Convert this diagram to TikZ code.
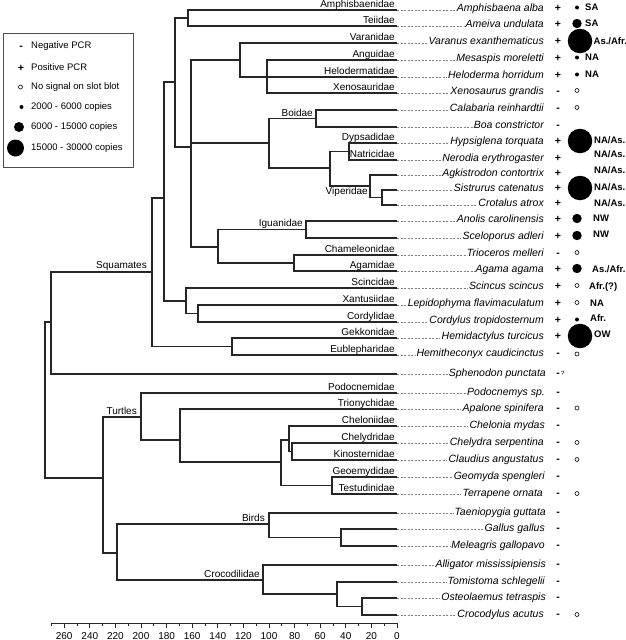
\documentclass[tikz,border=0pt]{standalone}
\usepackage{fontspec}
\setmainfont{Liberation Sans}
\begin{document}
\begin{tikzpicture}[x=1pt,y=-1pt,
  br/.style={line width=1.3pt, draw=black!85},
  lead/.style={draw=black!50, line width=0.5pt, dash pattern=on 2.2pt off 1.3pt},
  fam/.style={anchor=base east, inner sep=0pt, font=\fontsize{10}{12}\selectfont},
  sp/.style={anchor=base east, inner xsep=1pt, inner ysep=0pt, font=\fontsize{10.5}{12}\selectfont\itshape},
  sgn/.style={anchor=base, inner sep=0pt, font=\fontsize{10.5}{12}\selectfont\bfseries},
  reg/.style={anchor=base west, inner sep=0pt, font=\fontsize{9.5}{12}\selectfont\bfseries},
  dotL/.style={circle, fill=black, inner sep=0pt, minimum size=24.5pt},
  dotM/.style={circle, fill=black, inner sep=0pt, minimum size=9.4pt},
  dotS/.style={circle, fill=black, inner sep=0pt, minimum size=4pt},
  dotO/.style={circle, draw=black, line width=0.6pt, inner sep=0pt, minimum size=4pt},
  leg/.style={anchor=west, inner sep=0pt, font=\fontsize{9.5}{11}\selectfont},
  legbox/.style={draw=black!70, line width=0.8pt, minimum width=130pt, minimum height=134pt, inner sep=0pt},
  axl/.style={line width=1pt, draw=black!85},
  axlab/.style={anchor=base, inner sep=0pt, font=\fontsize{10}{12}\selectfont}
]
\useasboundingbox (0,0) rectangle (626,640);

\newcommand\mkrow[6]{% index, y, species, sign, species right x, baseline offset
  \coordinate (t#1) at (397,#2);
  \node[sp] (s#1) at (#5,#2+#6) {#3};
  \draw[lead] (t#1) -- (s#1.west |- t#1);
  \node[sgn] (g#1) at (558,#2+#6) {#4};
}

% ---- leaves ----
\mkrow{1}{10}{Amphisbaena alba}{+}{545}{1}
\mkrow{2}{26}{Ameiva undulata}{+}{545}{1}
\mkrow{3}{43}{Varanus exanthematicus}{+}{545}{1}
\mkrow{4}{60}{Mesaspis moreletti}{+}{545}{1}
\mkrow{5}{77}{Heloderma horridum}{+}{545}{1}
\mkrow{6}{93}{Xenosaurus grandis}{-}{545}{1}
\mkrow{7}{110}{Calabaria reinhardtii}{-}{545}{1}
\mkrow{8}{127}{Boa constrictor}{-}{545}{1}
\mkrow{9}{143}{Hypsiglena torquata}{+}{545}{1}
\mkrow{10}{160}{Nerodia erythrogaster}{+}{545}{1}
\mkrow{11}{175}{Agkistrodon contortrix}{+}{545}{1}
\mkrow{12}{190}{Sistrurus catenatus}{+}{545}{1}
\mkrow{13}{205}{Crotalus atrox}{+}{545}{1}
\mkrow{14}{221}{Anolis carolinensis}{+}{545}{1}
\mkrow{15}{238}{Sceloporus adleri}{+}{545}{1}
\mkrow{16}{255}{Trioceros melleri}{-}{545}{1}
\mkrow{17}{271}{Agama agama}{+}{545}{1}
\mkrow{18}{288}{Scincus scincus}{+}{545}{1}
\mkrow{19}{305}{Lepidophyma flavimaculatum}{+}{545}{1}
\mkrow{20}{322}{Cordylus tropidosternum}{+}{545}{1}
\mkrow{21}{338}{Hemidactylus turcicus}{+}{545}{1}
\mkrow{22}{355}{Hemitheconyx caudicinctus}{-}{545}{1.5}
\mkrow{23}{374}{Sphenodon punctata}{-}{547}{2.5}
\mkrow{24}{393}{Podocnemys sp.}{-}{546}{2.5}
\mkrow{25}{409}{Apalone spinifera}{-}{545}{2.5}
\mkrow{26}{426}{Chelonia mydas}{-}{546}{2.5}
\mkrow{27}{443}{Chelydra serpentina}{-}{545}{2.5}
\mkrow{28}{460}{Claudius angustatus}{-}{545}{2.5}
\mkrow{29}{477}{Geomyda spengleri}{-}{546}{2.5}
\mkrow{30}{494}{Terrapene ornata}{-}{544}{2.5}
\mkrow{31}{513}{Taeniopygia guttata}{-}{547}{2.5}
\mkrow{32}{529}{Gallus gallus}{-}{546}{2.5}
\mkrow{33}{546}{Meleagris gallopavo}{-}{546}{2.5}
\mkrow{34}{565}{Alligator mississipiensis}{-}{547}{2.5}
\mkrow{35}{582}{Tomistoma schlegelii}{-}{546}{2.5}
\mkrow{36}{598}{Osteolaemus tetraspis}{-}{547}{2.5}
\mkrow{37}{615}{Crocodylus acutus}{-}{545}{2.5}
\node[anchor=base west, inner sep=0pt, font=\fontsize{6}{7}\selectfont] (q23) at (561,375) {?};

% ---- internal nodes ----
\coordinate (amte) at (188,18);
\coordinate (ang3) at (267,77);
\coordinate (angui) at (240,60);
\coordinate (boid) at (316,118.5);
\coordinate (colub) at (349,151.5);
\coordinate (crot) at (382,197.5);
\coordinate (viper) at (370,186);
\coordinate (caen) at (330,168);
\coordinate (snake) at (269,143);
\coordinate (igu) at (306,229.5);
\coordinate (acro) at (294,263);
\coordinate (iguania) at (218,247);
\coordinate (toxi) at (191,147);
\coordinate (nB) at (175,82);
\coordinate (xc) at (198,313.5);
\coordinate (scinci) at (186,301);
\coordinate (nA) at (164,198);
\coordinate (gekk) at (232,346.5);
\coordinate (squam) at (152,272);
\coordinate (lepid) at (51,322);
\coordinate (chk) at (292,451.5);
\coordinate (chel) at (289,440);
\coordinate (test) at (332,485.5);
\coordinate (duro) at (281,462);
\coordinate (crypt) at (180,440);
\coordinate (turt) at (141,417);
\coordinate (gm) at (341,537.5);
\coordinate (birds) at (269,524);
\coordinate (os) at (362,606.5);
\coordinate (tc) at (337,594);
\coordinate (croc) at (263,580);
\coordinate (archo) at (117,553);
\coordinate (arche) at (103,478);
\coordinate (root) at (45,400);

\foreach \p/\cs in {amte/{t1,t2}, ang3/{t4,t5,t6}, angui/{t3,ang3}, boid/{t7,t8},
  colub/{t9,t10}, crot/{t12,t13}, viper/{t11,crot}, caen/{colub,viper},
  snake/{boid,caen}, igu/{t14,t15}, acro/{t16,t17}, iguania/{igu,acro},
  toxi/{angui,snake,iguania}, nB/{amte,toxi}, xc/{t19,t20}, scinci/{t18,xc},
  nA/{nB,scinci}, gekk/{t21,t22}, squam/{nA,gekk}, lepid/{squam,t23},
  chk/{t27,t28}, chel/{t26,chk}, test/{t29,t30}, duro/{chel,test},
  crypt/{t25,duro}, turt/{t24,crypt}, gm/{t32,t33}, birds/{t31,gm},
  os/{t36,t37}, tc/{t35,os}, croc/{t34,tc}, archo/{birds,croc},
  arche/{turt,archo}, root/{lepid,arche}}
  {\foreach \c in \cs {\draw[br] (\p) |- (\c);}}

% ---- family labels ----
\foreach \i/\y/\f in {1/10/Amphisbaenidae, 2/26/Teiidae, 3/43/Varanidae, 4/60/Anguidae,
  5/77/Helodermatidae, 6/93/Xenosauridae, 9/143/Dypsadidae, 10/160/Natricidae,
  16/255/Chameleonidae, 17/271/Agamidae, 18/288/Scincidae, 19/305/Xantusiidae,
  20/322/Cordylidae, 21/338/Gekkonidae, 22/355/Eublepharidae, 24/393/Podocnemidae,
  25/409/Trionychidae, 26/426/Cheloniidae, 27/443/Chelydridae, 28/460/Kinosternidae,
  29/477/Geoemydidae, 30/494/Testudinidae}
  {\node[fam] (f\i) at (395,\y-2.5) {\f};}

\node[fam] (lboid) at (313,116) {Boidae};
\node[fam] (ligu) at (303,226.5) {Iguanidae};
\node[fam] (lviper) at (368,194) {Viperidae};
\node[fam] (lsquam) at (147,268) {Squamates};
\node[fam] (lturt) at (137,414.5) {Turtles};
\node[fam] (lbirds) at (265,521.5) {Birds};
\node[fam] (lcroc) at (260,577.5) {Crocodilidae};

% ---- dots ----
\node[dotS] (d1) at (577,7.5) {};
\node[dotM] (d2) at (577,23.5) {};
\node[dotL] (d3) at (580,41) {};
\node[dotS] (d4) at (577,57.5) {};
\node[dotS] (d5) at (577,74.5) {};
\node[dotO] (d6) at (577,90.5) {};
\node[dotO] (d7) at (577,107.5) {};
\node[dotL] (d9) at (580,141) {};
\node[dotL] (d12) at (580,188) {};
\node[dotM] (d14) at (577,218.5) {};
\node[dotM] (d15) at (577,235.5) {};
\node[dotO] (d16) at (577,252.5) {};
\node[dotM] (d17) at (577,268.5) {};
\node[dotO] (d18) at (577,285.5) {};
\node[dotO] (d19) at (577,302.5) {};
\node[dotS] (d20) at (577,319.5) {};
\node[dotL] (d21) at (580,336) {};
\node[dotO] (d22) at (577,354) {};
\node[dotO] (d25) at (577,408) {};
\node[dotO] (d27) at (577,442.5) {};
\node[dotO] (d28) at (577,459.5) {};
\node[dotO] (d30) at (577,493.5) {};
\node[dotO] (d37) at (577,614.5) {};

% ---- regions ----
\node[reg] (r1) at (585,10.5) {SA};
\node[reg] (r2) at (585,26.5) {SA};
\node[reg] (r3) at (593.5,44) {As./Afr.};
\node[reg] (r4) at (585,60.5) {NA};
\node[reg] (r5) at (585,77.5) {NA};
\node[reg] (r9) at (594,143.5) {NA/As.};
\node[reg] (r10) at (594,157) {NA/As.};
\node[reg] (r11) at (594,173.5) {NA/As.};
\node[reg] (r12) at (594,190) {NA/As.};
\node[reg] (r13) at (594,206) {NA/As.};
\node[reg] (r14) at (593,221.5) {NW};
\node[reg] (r15) at (593,237) {NW};
\node[reg] (r17) at (592,272) {As./Afr.};
\node[reg] (r18) at (589,289) {Afr.(?)};
\node[reg] (r19) at (590,306.5) {NA};
\node[reg] (r20) at (590,321) {Afr.};
\node[reg] (r21) at (594,337) {OW};

% ---- legend ----
\node[legbox] (legend) at (68,100) {};
\node[sgn] (lm1) at (21,49.5) {-};
\node[leg] (lt1) at (31,46) {Negative PCR};
\node[sgn] (lm2) at (21,71) {+};
\node[leg] (lt2) at (31,67) {Positive PCR};
\node[dotO] (lm3) at (20.5,87) {};
\node[leg] (lt3) at (31,87) {No signal on slot blot};
\node[dotS] (lm4) at (21.5,107) {};
\node[leg] (lt4) at (31,107) {2000 - 6000 copies};
\node[circle, fill=black, inner sep=0pt, minimum size=10pt] (lm5) at (19,127) {};
\node[leg] (lt5) at (31,127) {6000 - 15000 copies};
\node[circle, fill=black, inner sep=0pt, minimum size=17pt] (lm6) at (15.5,148) {};
\node[leg] (lt6) at (31,148) {15000 - 30000 copies};

% ---- axis ----
\coordinate (ax0) at (397,623);
\coordinate (axend) at (51.4,623);
\draw[axl] (axend) -- (ax0);
\foreach \v in {0,20,...,260} {
  \draw[axl] ({397-1.28*\v},623) -- ++(0,4.5);
  \node[axlab] at ({397-1.28*\v},639) {\v};
}
\foreach \v in {10,30,...,270} {
  \draw[axl] ({397-1.28*\v},623) -- ++(0,2.5);
}
\end{tikzpicture}
\end{document}
